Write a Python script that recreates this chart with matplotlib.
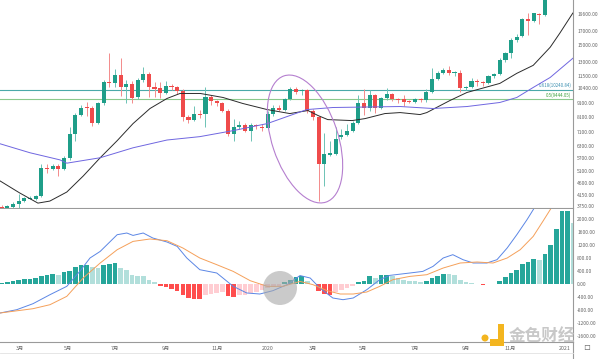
import numpy as np
import matplotlib
matplotlib.use("Agg")
import matplotlib.pyplot as plt
from matplotlib.patches import Ellipse, Circle, Rectangle
from matplotlib.ticker import NullLocator

plt.rcParams['font.family'] = ['Noto Sans CJK SC', 'DejaVu Sans']

# weekly candles, BTC, from mid Feb 2019 (index 0) to mid Jan 2021
opens = [3727, 3640, 3740, 3825, 3925, 4010, 3994, 4100, 5225, 5180,
         5316, 5180, 5700, 7015, 8267, 8785, 8720, 7715, 9094, 10950,
         10810, 11590, 10440, 10720, 9577, 11090, 11690, 10440, 10350, 9914,
         10530, 10440, 10090, 8125, 7917, 8339, 8339, 9577, 9252, 9094,
         8559, 7015, 7454, 7584, 7200, 7584, 7454, 7390, 8339, 8785,
         8630, 9413, 10260, 10090, 10180, 8559, 8125, 5409, 5850, 5900,
         6836, 6955, 7200, 7715, 9094, 8785, 9744, 8785, 9495, 9829,
         9413, 9413, 9252, 9173, 9413, 9333, 10000, 11200, 11790, 12100,
         11790, 11790, 10350, 10440, 11000, 10900, 10810, 11490, 11690, 13190,
         14020, 15680, 16240, 18800, 18480, 19650, 19470, 23800, 26400, 33000,
         38200, 35800]
highs = [3800, 3790, 3880, 4170, 4080, 4100, 4140, 5380, 5400, 5420,
         5400, 5800, 7400, 8400, 9000, 9173, 8900, 9250, 11100, 14000,
         12200, 13400, 11090, 11000, 11300, 12410, 11900, 10900, 10930, 11000,
         10720, 10530, 10260, 8267, 8938, 8600, 10500, 9800, 9400, 9200,
         8700, 7950, 7800, 7700, 7700, 7650, 7600, 8500, 8950, 8950,
         9500, 10440, 10500, 10300, 10300, 8700, 8200, 7076, 6600, 7450,
         7300, 7600, 7800, 9744, 10260, 10180, 9900, 9650, 10350, 9950,
         9500, 9744, 9400, 9500, 9500, 10260, 12360, 12000, 12300, 12600,
         12000, 12100, 10600, 11300, 11200, 11000, 11600, 11800, 13400, 14200,
         16000, 16500, 19000, 19800, 19900, 19800, 24300, 28400, 34800, 41900,
         40100, 38000]
lows = [3632, 3620, 3700, 3680, 3890, 3980, 3960, 4060, 4999, 5120,
        4870, 5130, 5600, 6600, 8150, 8200, 7500, 7650, 9000, 10440,
        10440, 9660, 9170, 9170, 9413, 10900, 9577, 9600, 9500, 9830,
        10180, 9829, 7850, 7700, 7850, 8055, 7400, 9000, 8900, 8450,
        6900, 6600, 7300, 7100, 6600, 7300, 7150, 7300, 8200, 8500,
        8500, 9333, 9830, 9750, 8400, 7900, 3925, 4470, 5800, 5850,
        6700, 6900, 7100, 7650, 8267, 8500, 8400, 8700, 9400, 9300,
        9100, 8938, 9100, 9100, 9200, 9250, 9914, 11100, 11690, 11600,
        11500, 10000, 10180, 10350, 10600, 10530, 10720, 11300, 11600, 13000,
        13500, 15400, 16100, 16400, 18300, 18000, 19300, 22600, 26000, 28200,
        30400, 28900]
closes = [3663, 3760, 3825, 3925, 4028, 4040, 4100, 5225, 5180, 5316,
          5180, 5700, 7015, 8267, 8785, 8720, 7715, 9094, 10900, 10810,
          11590, 10440, 10720, 9495, 11090, 11690, 10440, 10260, 9914, 10530,
          10440, 10090, 8125, 7917, 8339, 8267, 9577, 9252, 9094, 8559,
          7015, 7454, 7584, 7200, 7584, 7519, 7390, 8339, 8785, 8630,
          9413, 10260, 10000, 10180, 8559, 8125, 5409, 5900, 5930, 6720,
          6955, 7200, 7715, 9094, 8785, 9744, 8785, 9495, 9829, 9413,
          9333, 9173, 9173, 9413, 9333, 10000, 11200, 11790, 12100, 11790,
          11890, 10350, 10440, 11000, 10900, 10810, 11490, 11690, 13190, 14020,
          15680, 16100, 18800, 18480, 19810, 19470, 23800, 26400, 33000, 38200,
          35800, 32100]

# moving averages
ma_black_pos = [-0.3, 3.2, 6.4, 8.5, 11.5, 14.4, 17.4, 20.4, 23.2, 26.2,
                29.2, 31.5, 35.1, 39.1, 42.6, 46.9, 50.9, 54.1, 55.9, 57.6,
                61.9, 64.2, 67.7, 70.4, 73.9, 75.1, 79.2, 82.2, 88.0, 91.0,
                93.9, 96.9, 98.6, 100.9]
ma_black_val = [4670, 4207, 3857, 3925, 4243, 4870, 5700, 6603, 7648, 8710,
                9495, 9914, 9914, 9577, 9094, 8630, 8339, 8559, 8196, 7917,
                7850, 7986, 8339, 8410, 8267, 8410, 9333, 10000, 10810, 11790,
                12630, 14760, 16660, 19810]
ma_purple_pos = [-0.3, 5.0, 10.3, 11.5, 17.4, 23.2, 29.2, 35.0, 40.9, 46.9,
                 53.9, 58.5, 70.4, 76.2, 82.2, 88.0, 91.0, 93.9, 96.9, 100.9]
ma_purple_val = [6430, 5950, 5596, 5440, 5700, 6210, 6640, 6836, 7200, 7648,
                 8630, 8785, 8860, 8710, 8860, 9173, 9577, 10440, 11380, 13420]

# MACD histogram, one bar per week
macd_hist = [31, 62, 103, 123, 144, 154, 174, 246, 287, 308,
             287, 359, 410, 513, 595, 600, 513, 505, 595, 615,
             636, 492, 420, 287, 256, 236, 133, 51, -72, -103,
             -144, -205, -328, -431, -462, -470, -349, -308, -277, -246,
             -379, -410, -349, -328, -277, -246, -174, -123, -92, -51,
             62, 133, 205, 236, 103, 15, -205, -308, -349, -246,
             -174, -123, -51, 51, 103, 236, 185, 267, 287, 256,
             185, 133, 103, 82, 51, 103, 185, 256, 318, 308,
             267, 133, 51, 31, 10, -41, -8, 10, 103, 205,
             338, 441, 626, 677, 769, 749, 933, 1190, 1692, 2236,
             2256, 1877]
dif_pos = [-0.3, 2.65, 5.53, 8.53, 11.5, 13.8, 15.6, 17.4, 20.4, 22.1,
           23.2, 25.0, 26.7, 29.2, 31.0, 32.7, 35.0, 38.0, 40.9, 43.3,
           45.6, 47.9, 50.4, 52.7, 54.5, 56.2, 58.5, 60.3, 62.1, 64.5,
           66.8, 68.6, 72.1, 74.4, 76.2, 78.0, 79.7, 81.5, 83.3, 85.7,
           87.5, 89.3, 91.0, 92.8, 93.9, 96.0]
dif_val = [-893, -791, -606, -329, -72, 390, 800, 1003, 1517, 1569,
           1495, 1569, 1415, 1292, 1157, 800, 440, 338, -72, -277,
           -308, -206, -21, 260, 184, -123, -431, -483, -431, -175,
           133, 266, 338, 388, 542, 800, 902, 748, 646, 646,
           748, 1108, 1517, 1978, 2286, 2900]
dea_pos = [-0.3, 5.53, 8.53, 11.5, 14.4, 17.4, 20.4, 23.2, 26.2, 29.2,
           32.0, 35.0, 38.0, 40.9, 43.9, 46.9, 49.7, 52.7, 55.0, 57.5,
           59.8, 62.1, 64.5, 66.8, 69.1, 72.1, 75.1, 78.0, 81.0, 84.0,
           86.8, 89.3, 91.6, 93.9, 95.6, 96.9, 99.0]
dea_val = [-893, -760, -637, -380, 185, 646, 1055, 1311, 1385, 1332,
           1108, 800, 594, 388, 102, -72, -72, 80, -21, -206,
           -308, -308, -246, -72, 133, 234, 286, 492, 646, 677,
           646, 800, 1055, 1465, 1926, 2286, 2900]

fib_levels = [10240.84, 9444.05]
fib_labels = ["0.618(10240.84)", "0.5(9444.05)"]

price_ticks = [19600, 17000, 15000, 13000, 11500, 10400, 9100, 8100,
               7100, 6300, 5700, 5100, 4600, 4150, 3750]
macd_ticks = [2000, 1600, 1200, 800, 400, 0, -400, -800, -1200, -1600]
month_pos = [3.2, 11.7, 20, 29, 38, 47, 55, 63.8, 73, 82, 89.8, 99.5]
month_labels = ["3月", "5月", "7月", "9月", "11月", "2020",
                "3月", "5月", "7月", "9月", "11月", "2021"]

GREEN = "#1f9e89"
RED = "#ef4b4b"
GRID = "#9a9a9a"

fig = plt.figure(figsize=(6, 3.59), dpi=100)
W, H = 600, 359
ax = fig.add_axes([0, 1 - 208 / H, 573 / W, 208 / H])
ax2 = fig.add_axes([0, 1 - 342 / H, 573 / W, 133 / H], sharex=ax)

# --- candles
idx = np.arange(len(opens))
o = np.array(opens, float)
c = np.array(closes, float)
up = c >= o
lo = np.minimum(o, c)
hi = np.maximum(np.maximum(o, c), lo * 1.009)
cols = np.where(up, GREEN, RED)
wick_cols = np.where(up, "#6cc3b5", "#f38b8b")
ax.vlines(idx, lows, highs, colors=wick_cols, lw=0.7, zorder=2)
ax.bar(idx, hi - lo, bottom=lo, width=0.72, color=cols, linewidth=0, zorder=3)

ax.plot(ma_black_pos, ma_black_val, color="#2b2b2b", lw=0.7, zorder=4)
ax.plot(ma_purple_pos, ma_purple_val, color="#6f66e0", lw=0.7, zorder=4)

ax.axhline(fib_levels[0], color="#4aa9a9", lw=0.8, zorder=1)
ax.axhline(fib_levels[1], color="#8cc98c", lw=0.8, zorder=1)
ax.text(100.6, fib_levels[0] * 1.012, fib_labels[0], fontsize=3.2,
        color="#3a8fb0", ha="right", va="bottom")
ax.text(100.6, fib_levels[1] * 1.012, fib_labels[1], fontsize=3.2,
        color="#3aa03a", ha="right", va="bottom")

ax.set_yscale("log")
ax.set_ylim(3698, 22170)
ax.set_xlim(-0.3, 100.93)
ax.yaxis.set_minor_locator(NullLocator())
ax.set_yticks(price_ticks)
ax.set_yticklabels([f"{v:.2f}" for v in price_ticks])
ax.yaxis.tick_right()
ax.tick_params(axis="y", labelsize=3.6, length=0, pad=3, colors="#666666")
ax.tick_params(axis="x", bottom=False, labelbottom=False)

# --- MACD
hist = np.array(macd_hist, float)
prev = np.concatenate([[hist[0] - 1], hist[:-1]])
hcols = []
for v, p in zip(hist, prev):
    if v >= 0:
        hcols.append("#26a69a" if v >= p else "#b2dfdb")
    else:
        hcols.append("#ff4d4d" if v < p else "#ffcdd2")
ax2.bar(idx, hist, width=0.82, color=hcols, linewidth=0, zorder=2)
ax2.plot(dif_pos, dif_val, color="#5b86e5", lw=0.7, zorder=3)
ax2.plot(dea_pos, dea_val, color="#f5a05a", lw=0.7, zorder=3)
ax2.set_ylim(-1785, 2308)
ax2.set_yticks(macd_ticks)
ax2.set_yticklabels([f"{v:.2f}" for v in macd_ticks])
ax2.yaxis.tick_right()
ax2.tick_params(axis="y", labelsize=3.6, length=0, pad=3, colors="#666666")
ax2.set_xticks(month_pos)
ax2.set_xticklabels(month_labels)
ax2.tick_params(axis="x", labelsize=3.8, length=0, pad=3, colors="#666666")

for a in (ax, ax2):
    a.set_facecolor("white")
    for s in ("top", "left"):
        a.spines[s].set_visible(False)
    for s in ("bottom", "right"):
        a.spines[s].set_color(GRID)
        a.spines[s].set_linewidth(0.8)

# --- annotations in pixel space
ov = fig.add_axes([0, 0, 1, 1], facecolor="none")
ov.set_xlim(0, W)
ov.set_ylim(H, 0)
ov.axis("off")
ov.add_patch(Ellipse((305, 139), 133, 66, angle=71.6, fill=False,
                     edgecolor="#b57fcf", lw=0.8))
ov.add_patch(Circle((280, 288), 17, color="#a8a8a8", alpha=0.6, lw=0))
ov.plot([573, 573], [342, 359], color=GRID, lw=0.8)
ov.plot([0, 573], [353, 353], color="#e2e2e2", lw=0.6)
ov.text(587, 348, "口", fontsize=5, color="#777777", ha="center", va="center")

# watermark
ov.add_patch(Rectangle((490, 324), 14, 22, color="#f3b51f", lw=0))
ov.add_patch(Rectangle((490, 324), 8, 15, color="white", lw=0))
ov.add_patch(Circle((485, 338), 3.5, color="#f3b51f", lw=0))
ov.text(542, 336, "金色财经", fontsize=12, color="#c2c2c2", ha="center",
        va="center", fontweight="bold", alpha=0.9)

fig.savefig("out.png", dpi=100)
